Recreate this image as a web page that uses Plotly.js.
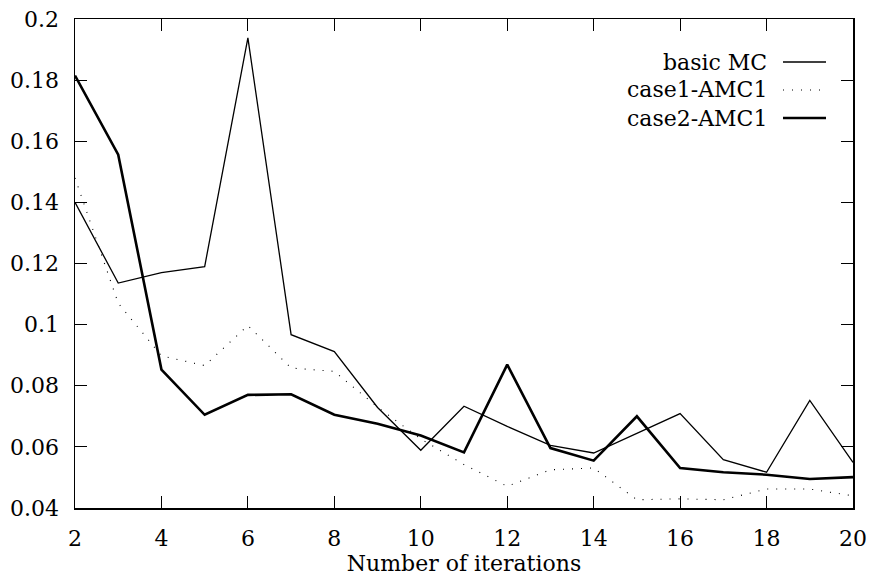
<!DOCTYPE html>
<html>
<head>
<meta charset="utf-8">
<script src="https://cdn.plot.ly/plotly-3.0.1.min.js"></script>
<style>html,body{margin:0;padding:0;background:#fff;}#chart{width:869px;height:582px;}</style>
</head>
<body>
<div id="chart"></div>
<script>
const iterations = [2,3,4,5,6,7,8,9,10,11,12,13,14,15,16,17,18,19,20];
const basicMC = [0.140,0.1136,0.117,0.119,0.1938,0.0967,0.0912,0.0729,0.0589,0.0733,0.0667,0.0605,0.058,0.0645,0.0709,0.0558,0.0517,0.0752,0.0549];
const case1AMC1 = [0.148,0.107,0.0898,0.0866,0.0997,0.0858,0.0847,0.073,0.0626,0.0542,0.0471,0.0525,0.0531,0.0427,0.043,0.0427,0.0462,0.0462,0.044];
const case2AMC1 = [0.1815,0.1556,0.0853,0.0705,0.077,0.0772,0.0705,0.0676,0.0637,0.0582,0.0869,0.0596,0.0555,0.070,0.0531,0.0517,0.0509,0.0495,0.0501];
const seriesNames = ['basic MC','case1-AMC1','case2-AMC1'];
const xTicks = [2,4,6,8,10,12,14,16,18,20];
const yTicks = [0.04,0.06,0.08,0.1,0.12,0.14,0.16,0.18,0.2];

const FONT = "DejaVu Serif";
const FS = 22;
const styles = [
  {color:'#000', width:1.3, dash:'solid'},
  {color:'#000', width:1.1, dash:'1px,8px'},
  {color:'#000', width:2.6, dash:'solid'}
];
const data = [basicMC, case1AMC1, case2AMC1].map((ys,i)=>({
  x: iterations, y: ys, type:'scatter', mode:'lines', name: seriesNames[i],
  line: styles[i], showlegend:false
}));

const annotations = [];
const shapes = [];
const legTop = 1 - (62-19)/489;
const rowH = 28/489;
seriesNames.forEach((n,i)=>{
  const yy = legTop - i*rowH;
  annotations.push({xref:'paper', yref:'paper', x:(769-75)/778, y:yy, text:n, showarrow:false,
    xanchor:'right', yanchor:'middle', font:{family:FONT, size:FS, color:'#000'}});
  shapes.push({type:'line', xref:'paper', yref:'paper', x0:(783-75)/778, x1:(826-75)/778, y0:yy, y1:yy,
    line:{color:'#000', width:styles[i].width, dash:styles[i].dash}});
});

const layout = {
  width:869, height:582,
  margin:{l:75, r:16, t:19, b:74},
  paper_bgcolor:'#fff', plot_bgcolor:'#fff',
  font:{family:FONT, size:FS, color:'#000'},
  showlegend:false,
  xaxis:{range:[2,20], tickmode:'array', tickvals:xTicks, ticktext:xTicks.map(String),
    ticks:'inside', ticklen:12, tickwidth:1, tickcolor:'#000', mirror:'ticks',
    showline:true, linecolor:'#000', linewidth:1.5, showgrid:false, zeroline:false,
    ticklabelstandoff:10,
    tickfont:{family:FONT, size:FS},
    title:{text:'Number of iterations', font:{family:FONT, size:FS}, standoff:0}},
  yaxis:{range:[0.04,0.2], tickmode:'array', tickvals:yTicks, ticktext:yTicks.map(v=>String(+v.toFixed(2))),
    ticks:'inside', ticklen:12, tickwidth:1, tickcolor:'#000', mirror:'ticks',
    showline:true, linecolor:'#000', linewidth:1.5, showgrid:false, zeroline:false,
    ticklabelstandoff:10,
    tickfont:{family:FONT, size:FS}},
  annotations: annotations,
  shapes: shapes
};
Plotly.newPlot('chart', data, layout, {displayModeBar:false, staticPlot:true});
</script>
</body>
</html>
